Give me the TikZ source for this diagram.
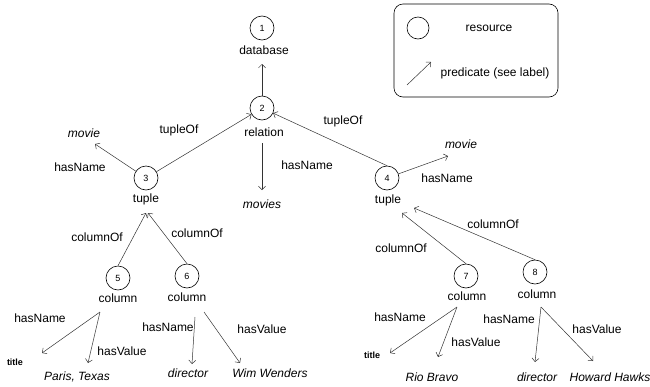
\documentclass[tikz,border=0pt]{standalone}
\usepackage{fontspec}
\setmainfont{Liberation Sans}
\usetikzlibrary{arrows.meta}
\begin{document}
\begin{tikzpicture}[x=1pt,y=-1pt,
  res/.style={circle,draw=black,line width=0.6pt,minimum size=24pt,inner sep=0pt,font=\fontsize{9}{9}\selectfont},
  txt/.style={inner sep=1pt,font=\fontsize{12}{12}\selectfont},
  val/.style={inner sep=1pt,font=\fontsize{12}{12}\selectfont\itshape},
  ttl/.style={inner sep=1pt,font=\fontsize{9}{9}\selectfont\bfseries},
  pred/.style={draw=black!80,line width=0.5pt,-{Straight Barb[length=3.5pt,width=7pt]}},
  legendbox/.style={draw=black,line width=0.6pt,rounded corners=9pt},
]
\useasboundingbox (0,0) rectangle (650,386);

% legend
\node[legendbox,minimum width=164pt,minimum height=93pt,inner sep=0pt] (legend) at (476,50.5) {};
\node[res,minimum size=22pt] (lres) at (418,28) {};
\node[txt] (lrestxt) at (489,28) {resource};
\coordinate (lps) at (407,85);
\coordinate (lpe) at (431,62);
\draw[pred] (lps) -- (lpe);
\node[txt] (lpredtxt) at (495,73) {predicate (see label)};

% resources
\node[res] (r1) at (262,28) {1};
\node[txt] (l1) at (264,50) {database};
\node[res] (r2) at (262,108) {2};
\node[txt] (l2) at (264,132) {relation};
\node[res] (r3) at (146,178) {3};
\node[txt] (l3) at (146,199) {tuple};
\node[res] (r4) at (387,178) {4};
\node[txt] (l4) at (388,200) {tuple};
\node[res] (r5) at (118,278) {5};
\node[txt] (l5) at (118,298) {column};
\node[res] (r6) at (187,276) {6};
\node[txt] (l6) at (187,297) {column};
\node[res] (r7) at (466,276) {7};
\node[txt] (l7) at (467,296) {column};
\node[res] (r8) at (535,272) {8};
\node[txt] (l8) at (537,294) {column};

% values
\node[val] (v1) at (84,133) {movie};
\node[val] (v2) at (262,204) {movies};
\node[val] (v3) at (461,144) {movie};
\node[ttl] (v4) at (15,362) {title};
\node[val] (v5) at (77,377) {Paris, Texas};
\node[val] (v6) at (188,373) {director};
\node[val] (v7) at (270,373) {Wim Wenders};
\node[ttl] (v8) at (372,355) {title};
\node[val] (v9) at (432,377) {Rio Bravo};
\node[val] (v10) at (537,377) {director};
\node[val] (v11) at (610,377) {Howard Hawks};

% connector end points
\coordinate (t1) at (262,64);
\coordinate (s2) at (262,143);
\coordinate (t2) at (262,190);
\coordinate (t31) at (95,144);
\coordinate (t43) at (448,156);
\coordinate (t53) at (146,213);
\coordinate (t63) at (148,213);
\coordinate (t74) at (402,213);
\coordinate (t84) at (414,208);
\coordinate (s5) at (100,312);
\coordinate (t5a) at (42,353);
\coordinate (t5b) at (88,363);
\coordinate (s6a) at (195,317);
\coordinate (s6b) at (204,312);
\coordinate (t6a) at (192,364);
\coordinate (t6b) at (240,363);
\coordinate (s7) at (457,307);
\coordinate (t7a) at (390,353);
\coordinate (t7b) at (438,357);
\coordinate (s8) at (541,307);
\coordinate (t8a) at (535,362);
\coordinate (t8b) at (593,361);

% connectors
\draw[pred] (r2.north) -- (t1);
\draw[pred] (s2) -- (t2);
\draw[pred] (r3) -- (r2);
\draw[pred] (r3) -- (t31);
\draw[pred] (r4.north) -- (r2);
\draw[pred] (r4) -- (t43);
\draw[pred] (r5.north) -- (t53);
\draw[pred] (r6.north) -- (t63);
\draw[pred] (r7.north) -- (t74);
\draw[pred] (r8.north) -- (t84);
\draw[pred] (s5) -- (t5a);
\draw[pred] (s5) -- (t5b);
\draw[pred] (s6a) -- (t6a);
\draw[pred] (s6b) -- (t6b);
\draw[pred] (s7) -- (t7a);
\draw[pred] (s7) -- (t7b);
\draw[pred] (s8) -- (t8a);
\draw[pred] (s8) -- (t8b);

% predicate labels
\node[txt] (e1) at (179,130) {tupleOf};
\node[txt] (e2) at (80,167) {hasName};
\node[txt] (e3) at (307,165) {hasName};
\node[txt] (e4) at (343,121) {tupleOf};
\node[txt] (e5) at (447,178) {hasName};
\node[txt] (e6) at (97,237) {columnOf};
\node[txt] (e7) at (197,233) {columnOf};
\node[txt] (e8) at (401,248) {columnOf};
\node[txt] (e9) at (493,224) {columnOf};
\node[txt] (e10) at (40,318) {hasName};
\node[txt] (e11) at (122,351) {hasValue};
\node[txt] (e12) at (168,327) {hasName};
\node[txt] (e13) at (262,329) {hasValue};
\node[txt] (e14) at (400,317) {hasName};
\node[txt] (e15) at (476,342) {hasValue};
\node[txt] (e16) at (509,319) {hasName};
\node[txt] (e17) at (597,329) {hasValue};
\end{tikzpicture}
\end{document}
